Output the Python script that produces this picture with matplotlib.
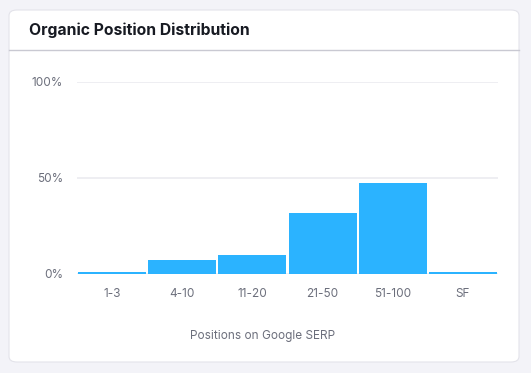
import matplotlib.pyplot as plt
from matplotlib.patches import FancyBboxPatch
from matplotlib.lines import Line2D

plt.rcParams['font.family'] = ['Inter', 'DejaVu Sans']

# Data
categories = ['1-3', '4-10', '11-20', '21-50', '51-100', 'SF']
shares = [0.9, 7.3, 9.9, 31.9, 47.5, 0.9]
y_ticks = [0, 50, 100]
y_tick_labels = ['0%', '50%', '100%']

W, H = 531, 373
fig = plt.figure(figsize=(W / 100, H / 100), dpi=100)
fig.patch.set_facecolor('#f3f3f8')

# white card
card = FancyBboxPatch((9 / W, (H - 362) / H), 510 / W, 352 / H,
                      boxstyle='round,pad=0,rounding_size=0.015',
                      transform=fig.transFigure, facecolor='white',
                      edgecolor='#e3e3ea', linewidth=0.8, zorder=-5)
fig.patches.append(card)
fig.lines.append(Line2D([9 / W, 519 / W], [(H - 50) / H] * 2,
                        transform=fig.transFigure, color='#c9c9d2', linewidth=1, zorder=-4))
fig.text(29 / W, (H - 30) / H, 'Organic Position Distribution', fontsize=11.3,
         fontweight='bold', color='#171a22', va='center', ha='left')

ax = fig.add_axes([77 / W, (H - 274) / H, 421 / W, 192 / H])
ax.set_zorder(2)
ax.set_facecolor('none')
x = range(len(categories))
ax.bar(x, shares, width=0.97, color='#2bb3ff', linewidth=0, zorder=2)
ax.set_xlim(-0.5, len(categories) - 0.5)
ax.set_ylim(0, 100)
ax.set_yticks(y_ticks)
ax.set_yticklabels(y_tick_labels)
ax.set_xticks(list(x))
ax.set_xticklabels(categories)
ax.grid(axis='y', color='#ebebf0', linewidth=1.2, zorder=0)
ax.set_axisbelow(True)
for s in ax.spines.values():
    s.set_visible(False)
ax.tick_params(length=0, labelsize=8.5, labelcolor='#6c6f7c')
ax.tick_params(axis='y', pad=16)
ax.tick_params(axis='y', pad=10)
ax.tick_params(axis='x', pad=10)

fig.text(263 / W, (H - 336) / H, 'Positions on Google SERP', fontsize=8.5,
         color='#6c6f7c', ha='center', va='center')

fig.savefig('out.png', dpi=100, facecolor=fig.get_facecolor())
